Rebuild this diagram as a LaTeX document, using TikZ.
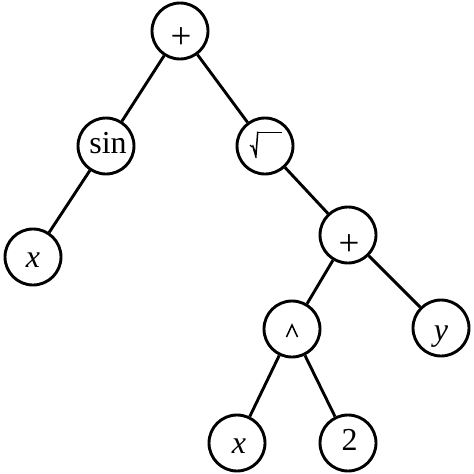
\documentclass[tikz,border=0pt]{standalone}
\usepackage{fontspec}
\setmainfont{Liberation Serif}
\begin{document}
\begin{tikzpicture}[x=1pt,y=-1pt,
  circ/.style={circle,draw,line width=2.9pt,minimum size=56pt,inner sep=0pt},
  lbl/.style={inner sep=0pt,font=\fontsize{32}{36}\selectfont},
  plbl/.style={inner sep=0pt,font=\fontsize{37}{40}\selectfont},
  edge/.style={line width=2.9pt}]
\useasboundingbox (0,0) rectangle (474,474);
\node[circ] (p1) at (180,31) {};
\node[circ] (sin) at (106,146) {};
\node[circ] (sq) at (265,146) {};
\node[circ] (x1) at (33,257) {};
\node[circ] (p2) at (348,235) {};
\node[circ] (car) at (292,329) {};
\node[circ] (yy) at (441,328) {};
\node[circ] (x2) at (237,443) {};
\node[circ] (two) at (348,443) {};
\draw[edge] (p1) -- (sin);
\draw[edge] (p1) -- (sq);
\draw[edge] (sin) -- (x1);
\draw[edge] (sq) -- (p2);
\draw[edge] (p2) -- (car);
\draw[edge] (p2) -- (yy);
\draw[edge] (car) -- (x2);
\draw[edge] (car) -- (two);
\node[plbl,anchor=center] (p1t) at (181,38.5) {+};
\node[plbl,anchor=center] (p2t) at (349,245) {+};
\node[lbl,anchor=base] (sint) at (108,153) {sin};
\node[lbl,anchor=base] (x1t) at (33,267) {\textit{x}};
\node[lbl,anchor=base] (yt) at (441,340) {\textit{y}};
\node[lbl,anchor=base] (x2t) at (239,453) {\textit{x}};
\node[lbl,anchor=base] (twot) at (349.5,450) {2};
% radical sign
\draw[line width=1.4pt,line join=miter] ([shift={(-15,-1)}]sq.center) -- ([shift={(-13,1)}]sq.center);
\fill ([shift={(-13,0)}]sq.center) -- ([shift={(-9.5,12)}]sq.center) -- ([shift={(-8.5,12)}]sq.center) -- ([shift={(-6.5,-14.5)}]sq.center) -- ([shift={(-8,-14.5)}]sq.center) -- ([shift={(-9.5,5)}]sq.center) -- ([shift={(-12,-1.5)}]sq.center) -- cycle;
\draw[line width=1.6pt] ([shift={(-7.5,-13.7)}]sq.center) -- ([shift={(17,-13.7)}]sq.center);
% caret
\draw[line width=1.5pt] ([shift={(-5.5,8)}]car.center) -- ([shift={(0,-4)}]car.center) -- ([shift={(5.5,8)}]car.center);
\end{tikzpicture}
\end{document}
